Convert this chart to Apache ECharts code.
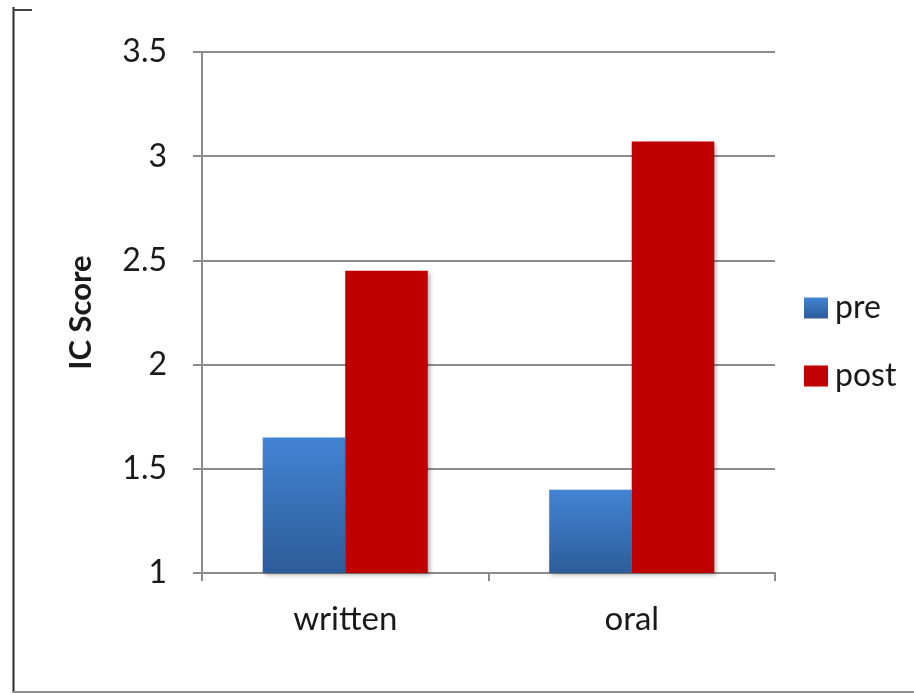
<!DOCTYPE html>
<html>
<head>
<meta charset="utf-8">
<script src="https://cdn.jsdelivr.net/npm/echarts@6/dist/echarts.min.js"></script>
<style>
  html, body { margin: 0; padding: 0; background: #fff; }
  #chart { width: 914px; height: 693px; }
</style>
</head>
<body>
<div id="chart"></div>
<script>
// IC scores before and after, by task type
const categories = ['written', 'oral'];
const seriesNames = ['pre', 'post'];
const preValues = [1.65, 1.40];
const postValues = [2.45, 3.07];
const yTicks = { min: 1, max: 3.5, interval: 0.5 };

const FONT = 'Lato, "Open Sans", sans-serif';
const TEXT = '#1a1a1a';
const GRID_LINE = '#8c8c8c';

const preColor = new echarts.graphic.LinearGradient(0, 0, 0, 1, [
  { offset: 0, color: '#4384d3' },
  { offset: 1, color: '#2d5c9a' }
]);
const postColor = '#c00000';

const barShadow = {
  shadowBlur: 4,
  shadowOffsetX: 2,
  shadowOffsetY: 2,
  shadowColor: 'rgba(0,0,0,0.3)'
};

const chart = echarts.init(document.getElementById('chart'), null, { renderer: 'canvas' });

chart.setOption({
  animation: false,
  backgroundColor: '#fff',
  grid: { left: 202, right: 139, top: 52, bottom: 120 },
  legend: {
    orient: 'vertical',
    left: 799,
    top: 287,
    itemWidth: 24,
    itemHeight: 21,
    itemGap: 36,
    icon: 'rect',
    textStyle: { fontFamily: FONT, fontSize: 32, color: TEXT, padding: [0, 0, 0, 2] },
    data: seriesNames
  },
  xAxis: {
    type: 'category',
    data: categories,
    axisLine: { lineStyle: { color: GRID_LINE, width: 2 } },
    axisTick: { show: true, length: 8, lineStyle: { color: GRID_LINE, width: 2 } },
    axisLabel: { fontFamily: FONT, fontSize: 33, color: TEXT, margin: 30 }
  },
  yAxis: {
    type: 'value',
    min: yTicks.min,
    max: yTicks.max,
    interval: yTicks.interval,
    name: 'IC Score',
    nameLocation: 'middle',
    nameGap: 106,
    nameRotate: 90,
    nameTextStyle: { fontFamily: FONT, fontSize: 31, fontWeight: 'bold', color: TEXT },
    axisLine: { show: true, lineStyle: { color: GRID_LINE, width: 2 } },
    axisTick: { show: true, length: 9, lineStyle: { color: GRID_LINE, width: 2 } },
    axisLabel: { fontFamily: FONT, fontSize: 32, color: TEXT, margin: 35 },
    splitLine: { show: true, lineStyle: { color: GRID_LINE, width: 2 } }
  },
  series: [
    {
      name: seriesNames[0],
      type: 'bar',
      data: preValues,
      barWidth: '28.8%',
      barGap: '0%',
      itemStyle: Object.assign({ color: preColor }, barShadow)
    },
    {
      name: seriesNames[1],
      type: 'bar',
      data: postValues,
      barWidth: '28.8%',
      barGap: '0%',
      itemStyle: Object.assign({ color: postColor }, barShadow)
    }
  ],
  graphic: [
    // outer frame: left edge, top nub and bottom edge
    { type: 'line', shape: { x1: 13.5, y1: 7, x2: 13.5, y2: 693 }, style: { stroke: '#2a2a2a', lineWidth: 2 } },
    { type: 'line', shape: { x1: 13, y1: 10, x2: 32, y2: 10 }, style: { stroke: '#444', lineWidth: 2 } },
    { type: 'line', shape: { x1: 13, y1: 692, x2: 914, y2: 692 }, style: { stroke: '#8c8c8c', lineWidth: 2 } }
  ]
});
</script>
</body>
</html>
